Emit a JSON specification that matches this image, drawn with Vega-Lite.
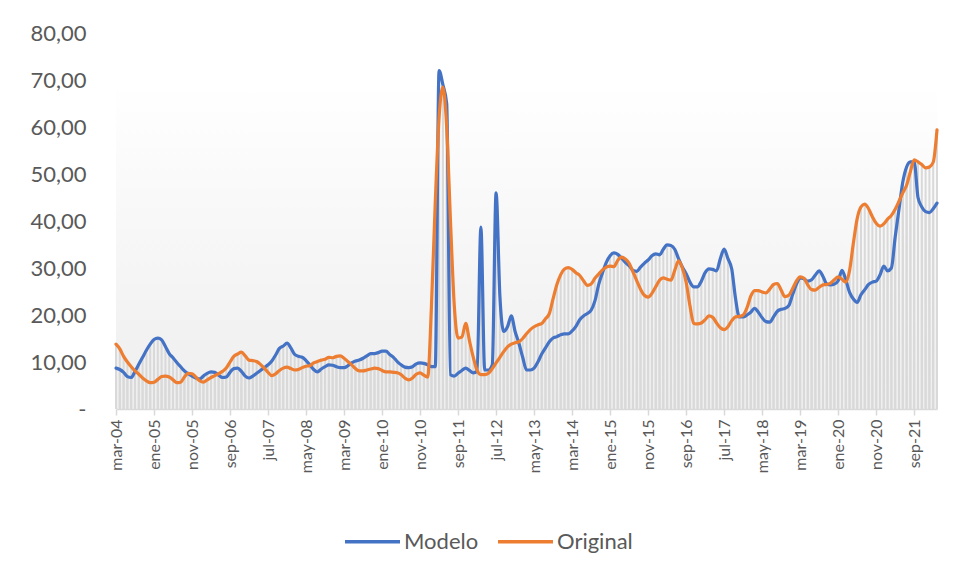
{
  "$schema": "https://vega.github.io/schema/vega-lite/v6.json",
  "width": 821,
  "height": 376,
  "autosize": {"type": "none"},
  "padding": {"left": 116, "top": 33, "right": 19, "bottom": 171},
  "background": "#ffffff",
  "view": {
    "stroke": null,
    "fill": {"gradient": "linear", "x1": 0, "y1": 0, "x2": 0, "y2": 1,
      "stops": [{"offset": 0, "color": "#ffffff"}, {"offset": 0.13, "color": "#ffffff"}, {"offset": 1, "color": "#eeeeee"}]}
  },
  "config": {
    "font": "Lato",
    "axis": {"labelColor": "#595959", "labelFont": "Lato"},
    "legend": {"labelFont": "Lato"}
  },
  "data": {"values": [
    {"m":"mar-04","Modelo":8.7,"Original":13.8},{"m":"abr-04","Modelo":8.4,"Original":12.8},{"m":"may-04","Modelo":7.8,"Original":11.2},{"m":"jun-04","Modelo":6.9,"Original":10.0},{"m":"jul-04","Modelo":6.7,"Original":9.0},{"m":"ago-04","Modelo":8.0,"Original":8.1},{"m":"sep-04","Modelo":9.5,"Original":7.4},{"m":"oct-04","Modelo":11.0,"Original":6.6},{"m":"nov-04","Modelo":12.5,"Original":6.0},{"m":"dic-04","Modelo":13.8,"Original":5.6},
    {"m":"ene-05","Modelo":14.8,"Original":5.7},{"m":"feb-05","Modelo":15.1,"Original":6.3},{"m":"mar-05","Modelo":14.7,"Original":6.9},{"m":"abr-05","Modelo":13.3,"Original":7.0},{"m":"may-05","Modelo":11.8,"Original":6.8},{"m":"jun-05","Modelo":10.9,"Original":6.2},{"m":"jul-05","Modelo":9.9,"Original":5.6},{"m":"ago-05","Modelo":9.0,"Original":5.7},{"m":"sep-05","Modelo":8.1,"Original":6.8},{"m":"oct-05","Modelo":7.5,"Original":7.6},{"m":"nov-05","Modelo":7.0,"Original":7.5},{"m":"dic-05","Modelo":6.6,"Original":6.8},
    {"m":"ene-06","Modelo":6.4,"Original":6.0},{"m":"feb-06","Modelo":7.0,"Original":5.7},{"m":"mar-06","Modelo":7.6,"Original":6.2},{"m":"abr-06","Modelo":7.9,"Original":6.7},{"m":"may-06","Modelo":7.8,"Original":7.1},{"m":"jun-06","Modelo":7.2,"Original":7.5},{"m":"jul-06","Modelo":6.7,"Original":8.0},{"m":"ago-06","Modelo":6.8,"Original":8.7},{"m":"sep-06","Modelo":7.8,"Original":10.0},{"m":"oct-06","Modelo":8.6,"Original":11.2},{"m":"nov-06","Modelo":8.7,"Original":11.7},{"m":"dic-06","Modelo":8.0,"Original":12.1},
    {"m":"ene-07","Modelo":7.0,"Original":11.3},{"m":"feb-07","Modelo":6.6,"Original":10.4},{"m":"mar-07","Modelo":7.0,"Original":10.3},{"m":"abr-07","Modelo":7.6,"Original":10.1},{"m":"may-07","Modelo":8.2,"Original":9.5},{"m":"jun-07","Modelo":8.8,"Original":8.7},{"m":"jul-07","Modelo":9.4,"Original":7.8},{"m":"ago-07","Modelo":10.2,"Original":7.1},{"m":"sep-07","Modelo":11.5,"Original":7.5},{"m":"oct-07","Modelo":12.9,"Original":8.2},{"m":"nov-07","Modelo":13.4,"Original":8.7},{"m":"dic-07","Modelo":14.0,"Original":8.9},
    {"m":"ene-08","Modelo":13.0,"Original":8.6},{"m":"feb-08","Modelo":11.6,"Original":8.3},{"m":"mar-08","Modelo":11.2,"Original":8.4},{"m":"abr-08","Modelo":11.0,"Original":8.8},{"m":"may-08","Modelo":10.3,"Original":9.1},{"m":"jun-08","Modelo":9.4,"Original":9.2},{"m":"jul-08","Modelo":8.4,"Original":9.8},{"m":"ago-08","Modelo":7.9,"Original":10.1},{"m":"sep-08","Modelo":8.5,"Original":10.4},{"m":"oct-08","Modelo":9.0,"Original":10.6},{"m":"nov-08","Modelo":9.4,"Original":11.0},{"m":"dic-08","Modelo":9.3,"Original":10.9},
    {"m":"ene-09","Modelo":9.0,"Original":11.2},{"m":"feb-09","Modelo":8.8,"Original":11.3},{"m":"mar-09","Modelo":8.8,"Original":10.8},{"m":"abr-09","Modelo":9.2,"Original":10.1},{"m":"may-09","Modelo":9.8,"Original":9.4},{"m":"jun-09","Modelo":10.2,"Original":8.6},{"m":"jul-09","Modelo":10.4,"Original":8.1},{"m":"ago-09","Modelo":10.8,"Original":8.1},{"m":"sep-09","Modelo":11.3,"Original":8.3},{"m":"oct-09","Modelo":11.8,"Original":8.5},{"m":"nov-09","Modelo":11.8,"Original":8.7},{"m":"dic-09","Modelo":12.0,"Original":8.6},
    {"m":"ene-10","Modelo":12.3,"Original":8.2},{"m":"feb-10","Modelo":12.3,"Original":7.9},{"m":"mar-10","Modelo":11.6,"Original":7.9},{"m":"abr-10","Modelo":11.0,"Original":7.8},{"m":"may-10","Modelo":10.1,"Original":7.7},{"m":"jun-10","Modelo":9.4,"Original":7.3},{"m":"jul-10","Modelo":8.9,"Original":6.6},{"m":"ago-10","Modelo":8.8,"Original":6.2},{"m":"sep-10","Modelo":9.0,"Original":6.6},{"m":"oct-10","Modelo":9.6,"Original":7.4},{"m":"nov-10","Modelo":9.8,"Original":7.7},{"m":"dic-10","Modelo":9.7,"Original":7.2},
    {"m":"ene-11","Modelo":9.4,"Original":6.8},{"m":"feb-11","Modelo":9.0,"Original":22.0},{"m":"mar-11","Modelo":9.0,"Original":44.0},{"m":"abr-11","Modelo":72.0,"Original":62.0},{"m":"may-11","Modelo":69.0,"Original":68.5},{"m":"jun-11","Modelo":65.0,"Original":60.0},{"m":"jul-11","Modelo":7.3,"Original":40.0},{"m":"ago-11","Modelo":7.0,"Original":22.0},{"m":"sep-11","Modelo":7.6,"Original":15.1},{"m":"oct-11","Modelo":8.2,"Original":15.3},{"m":"nov-11","Modelo":8.7,"Original":18.2},{"m":"dic-11","Modelo":8.2,"Original":14.5},
    {"m":"ene-12","Modelo":7.7,"Original":11.0},{"m":"feb-12","Modelo":8.0,"Original":8.2},{"m":"mar-12","Modelo":38.7,"Original":7.3},{"m":"abr-12","Modelo":8.3,"Original":7.3},{"m":"may-12","Modelo":8.3,"Original":7.6},{"m":"jun-12","Modelo":9.4,"Original":8.6},{"m":"jul-12","Modelo":46.0,"Original":9.8},{"m":"ago-12","Modelo":24.0,"Original":11.0},{"m":"sep-12","Modelo":16.5,"Original":12.2},{"m":"oct-12","Modelo":17.5,"Original":13.2},{"m":"nov-12","Modelo":19.8,"Original":13.8},{"m":"dic-12","Modelo":16.5,"Original":14.1},
    {"m":"ene-13","Modelo":14.0,"Original":14.3},{"m":"feb-13","Modelo":11.0,"Original":15.0},{"m":"mar-13","Modelo":8.3,"Original":16.0},{"m":"abr-13","Modelo":8.3,"Original":16.9},{"m":"may-13","Modelo":8.7,"Original":17.5},{"m":"jun-13","Modelo":10.0,"Original":17.9},{"m":"jul-13","Modelo":11.7,"Original":18.2},{"m":"ago-13","Modelo":13.0,"Original":19.2},{"m":"sep-13","Modelo":14.3,"Original":20.3},{"m":"oct-13","Modelo":15.1,"Original":23.5},{"m":"nov-13","Modelo":15.4,"Original":26.5},{"m":"dic-13","Modelo":15.8,"Original":28.6},
    {"m":"ene-14","Modelo":16.0,"Original":29.8},{"m":"feb-14","Modelo":16.0,"Original":30.1},{"m":"mar-14","Modelo":16.6,"Original":29.7},{"m":"abr-14","Modelo":17.6,"Original":29.0},{"m":"may-14","Modelo":19.0,"Original":28.4},{"m":"jun-14","Modelo":19.8,"Original":27.3},{"m":"jul-14","Modelo":20.3,"Original":26.3},{"m":"ago-14","Modelo":21.0,"Original":26.6},{"m":"sep-14","Modelo":23.0,"Original":27.8},{"m":"oct-14","Modelo":26.5,"Original":28.7},{"m":"nov-14","Modelo":29.0,"Original":29.6},{"m":"dic-14","Modelo":31.2,"Original":30.2},
    {"m":"ene-15","Modelo":32.6,"Original":30.4},{"m":"feb-15","Modelo":33.2,"Original":30.3},{"m":"mar-15","Modelo":32.9,"Original":31.6},{"m":"abr-15","Modelo":32.1,"Original":32.3},{"m":"may-15","Modelo":31.2,"Original":31.9},{"m":"jun-15","Modelo":30.5,"Original":31.0},{"m":"jul-15","Modelo":29.5,"Original":29.2},{"m":"ago-15","Modelo":29.3,"Original":27.3},{"m":"sep-15","Modelo":30.2,"Original":25.5},{"m":"oct-15","Modelo":31.0,"Original":24.2},{"m":"nov-15","Modelo":31.7,"Original":23.8},{"m":"dic-15","Modelo":32.6,"Original":24.6},
    {"m":"ene-16","Modelo":33.0,"Original":26.0},{"m":"feb-16","Modelo":32.8,"Original":27.4},{"m":"mar-16","Modelo":34.0,"Original":27.9},{"m":"abr-16","Modelo":34.9,"Original":27.6},{"m":"may-16","Modelo":34.8,"Original":27.4},{"m":"jun-16","Modelo":34.0,"Original":29.5},{"m":"jul-16","Modelo":32.0,"Original":31.5},{"m":"ago-16","Modelo":30.2,"Original":30.0},{"m":"sep-16","Modelo":28.8,"Original":27.0},{"m":"oct-16","Modelo":27.0,"Original":22.0},{"m":"nov-16","Modelo":26.0,"Original":18.2},{"m":"dic-16","Modelo":26.0,"Original":18.1},
    {"m":"ene-17","Modelo":27.2,"Original":18.3},{"m":"feb-17","Modelo":29.0,"Original":19.0},{"m":"mar-17","Modelo":29.8,"Original":19.8},{"m":"abr-17","Modelo":29.7,"Original":19.5},{"m":"may-17","Modelo":29.4,"Original":18.3},{"m":"jun-17","Modelo":32.0,"Original":17.3},{"m":"jul-17","Modelo":34.0,"Original":16.9},{"m":"ago-17","Modelo":32.0,"Original":17.5},{"m":"sep-17","Modelo":29.8,"Original":18.8},{"m":"oct-17","Modelo":23.5,"Original":19.6},{"m":"nov-17","Modelo":19.6,"Original":19.7},{"m":"dic-17","Modelo":19.6,"Original":20.0},
    {"m":"ene-18","Modelo":20.0,"Original":21.5},{"m":"feb-18","Modelo":20.6,"Original":24.0},{"m":"mar-18","Modelo":21.4,"Original":25.2},{"m":"abr-18","Modelo":20.6,"Original":25.2},{"m":"may-18","Modelo":19.4,"Original":24.9},{"m":"jun-18","Modelo":18.6,"Original":24.7},{"m":"jul-18","Modelo":18.5,"Original":25.5},{"m":"ago-18","Modelo":19.6,"Original":26.5},{"m":"sep-18","Modelo":20.8,"Original":26.7},{"m":"oct-18","Modelo":21.2,"Original":25.3},{"m":"nov-18","Modelo":21.4,"Original":23.9},{"m":"dic-18","Modelo":22.0,"Original":24.2},
    {"m":"ene-19","Modelo":24.3,"Original":25.6},{"m":"feb-19","Modelo":26.5,"Original":27.2},{"m":"mar-19","Modelo":27.9,"Original":28.1},{"m":"abr-19","Modelo":27.7,"Original":27.8},{"m":"may-19","Modelo":27.2,"Original":26.4},{"m":"jun-19","Modelo":27.5,"Original":25.4},{"m":"jul-19","Modelo":28.5,"Original":25.3},{"m":"ago-19","Modelo":29.4,"Original":25.9},{"m":"sep-19","Modelo":28.2,"Original":26.4},{"m":"oct-19","Modelo":26.6,"Original":26.5},{"m":"nov-19","Modelo":26.4,"Original":26.8},{"m":"dic-19","Modelo":26.6,"Original":27.5},
    {"m":"ene-20","Modelo":27.3,"Original":28.1},{"m":"feb-20","Modelo":29.5,"Original":27.6},{"m":"mar-20","Modelo":27.5,"Original":27.0},{"m":"abr-20","Modelo":24.8,"Original":29.5},{"m":"may-20","Modelo":23.4,"Original":35.3},{"m":"jun-20","Modelo":22.7,"Original":40.5},{"m":"jul-20","Modelo":24.3,"Original":43.0},{"m":"ago-20","Modelo":25.4,"Original":43.6},{"m":"sep-20","Modelo":26.5,"Original":42.6},{"m":"oct-20","Modelo":27.0,"Original":40.9},{"m":"nov-20","Modelo":27.2,"Original":39.5},{"m":"dic-20","Modelo":28.5,"Original":38.9},
    {"m":"ene-21","Modelo":30.4,"Original":39.4},{"m":"feb-21","Modelo":29.4,"Original":40.4},{"m":"mar-21","Modelo":30.0,"Original":41.2},{"m":"abr-21","Modelo":36.6,"Original":42.5},{"m":"may-21","Modelo":42.5,"Original":44.2},{"m":"jun-21","Modelo":48.3,"Original":46.0},{"m":"jul-21","Modelo":51.5,"Original":47.6},{"m":"ago-21","Modelo":52.6,"Original":50.5},{"m":"sep-21","Modelo":52.6,"Original":53.0},{"m":"oct-21","Modelo":45.0,"Original":52.6},{"m":"nov-21","Modelo":43.0,"Original":52.0},{"m":"dic-21","Modelo":42.0,"Original":51.3},
    {"m":"ene-22","Modelo":41.8,"Original":51.5},{"m":"feb-22","Modelo":42.6,"Original":52.5},{"m":"mar-22","Modelo":43.8,"Original":59.4}
  ]},
  "transform": [{"fold": ["Modelo", "Original"], "as": ["serie", "valor"]}],
  "encoding": {
    "x": {
      "field": "m", "type": "nominal", "sort": null,
      "scale": {"type": "point", "padding": 0},
      "axis": {
        "title": null,
        "values": ["mar-04","ene-05","nov-05","sep-06","jul-07","may-08","mar-09","ene-10","nov-10","sep-11","jul-12","may-13","mar-14","ene-15","nov-15","sep-16","jul-17","may-18","mar-19","ene-20","nov-20","sep-21"],
        "labelAngle": -90, "labelFontSize": 16, "labelPadding": 4,
        "domainColor": "#d9d9d9", "domainWidth": 1.5, "tickColor": "#d9d9d9", "tickSize": 6, "tickWidth": 1.5,
        "grid": false
      }
    },
    "y": {
      "field": "valor", "type": "quantitative", "stack": null,
      "scale": {"domain": [0, 80], "nice": false},
      "axis": {
        "title": null, "values": [0,10,20,30,40,50,60,70,80],
        "labelExpr": "datum.value == 0 ? '-' : replace(format(datum.value, '.2f'), '.', ',')",
        "labelFontSize": 22, "labelPadding": 30, "ticks": false, "domain": false, "grid": false
      }
    }
  },
  "layer": [
    {"mark": {"type": "bar", "size": 2, "color": "#d9d9d9"}},
    {
      "mark": {"type": "line", "strokeWidth": 3.2, "interpolate": "monotone", "strokeCap": "round", "strokeJoin": "round"},
      "encoding": {
        "color": {
          "field": "serie", "type": "nominal",
          "scale": {"domain": ["Modelo", "Original"], "range": ["#4472C4", "#ED7D31"]},
          "legend": {
            "title": null, "orient": "none", "legendX": 227, "legendY": 479, "direction": "horizontal",
            "symbolType": "stroke", "symbolSize": 3025, "symbolStrokeWidth": 3.5,
            "labelFontSize": 22, "labelColor": "#595959", "labelOffset": 2, "columnPadding": 12, "padding": 0
          }
        }
      }
    }
  ]
}
